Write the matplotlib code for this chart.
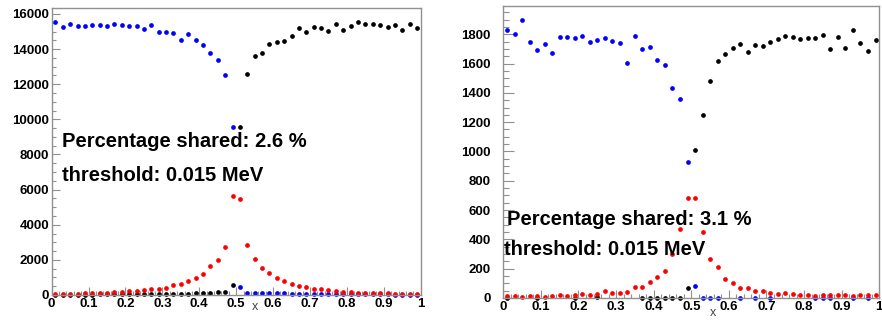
import numpy as np
import matplotlib
matplotlib.use('Agg')
import matplotlib.pyplot as plt
from matplotlib.ticker import MultipleLocator

nan = np.nan

# bin centres, 50 bins of width 0.02
x = np.arange(50) * 0.02 + 0.01

# left panel
left_blue = [15570, 15280, 15450, 15340, 15340, 15380, 15380, 15340, 15420, 15360,
             15340, 15300, 15170, 15400, 15000, 14960, 14920, 14510, 14850, 14510,
             14250, 13770, 13360, 12550, 9570,
             460, 140, 120, 110, 100, 95, 90, 80, 75, 70,
             65, 60, 55, 50, 45, 45, 40, 35, 35, 30,
             30, 25, 25, 20, 20]
left_black = [10, 15, 15, 20, 20, 25, 30, 30, 35, 35,
              40, 45, 45, 55, 60, 65, 70, 80, 85, 90,
              105, 115, 150, 165, 580,
              9580, 12600, 13590, 13770, 14300, 14410, 14470, 14770, 15230, 14980,
              15280, 15210, 15040, 15430, 15080, 15340, 15550, 15430, 15420, 15380,
              15250, 15380, 15110, 15430, 15210]
left_red = [40, 60, 60, 75, 115, 115, 115, 135, 150, 150,
            210, 210, 270, 325, 345, 400, 556, 650, 825, 980,
            1210, 1670, 1995, 2720, 5640, 5450, 2820, 2050, 1535, 1245,
            960, 805, 630, 540, 440, 365, 325, 290, 230, 190,
            170, 135, 115, 115, 95, 95, 75, 75, 75, 40]

# right panel (nan = empty bin, not drawn)
right_blue = [1827, 1802, 1898, 1745, 1691, 1734, 1670, 1782, 1782, 1773,
              1791, 1745, 1764, 1773, 1755, 1739, 1602, 1786, 1698, 1714,
              1627, 1591, 1430, 1361, 925,
              80, 0, 0, 0, nan, nan, 0, nan, 0, nan,
              0, nan, nan, nan, nan, nan, 0, 0, 0, nan,
              nan, 0, nan, 0, nan]
right_black = [2, nan, nan, nan, 2, nan, nan, nan, nan, 2,
               nan, nan, 5, nan, nan, nan, nan, nan, 2, 2,
               2, 2, 2, 2, 68,
               1011, 1248, 1482, 1616, 1666, 1707, 1736, 1680, 1727, 1723,
               1750, 1770, 1791, 1784, 1768, 1773, 1773, 1795, 1698, 1784,
               1705, 1830, 1743, 1686, 1759]
right_red = [16, 16, 9, 16, 14, 7, 14, 18, 16, 20,
             25, 20, 27, 45, 36, 36, 43, 73, 75, 109,
             145, 184, 300, 470, 684, 684, 450, 266, 213, 132,
             102, 70, 70, 48, 48, 34, 30, 36, 25, 23,
             18, 16, 20, 20, 18, 18, 14, 20, 20, 18]

panels = [
    dict(rect=[0.0586, 0.081, 0.4184, 0.894], ylim=16340, major=2000, minor=500,
         blue=left_blue, black=left_black, red=left_red, ypad=2, ytick=(6, 3),
         text=("Percentage shared: 2.6 %", 0.0703, 0.542, 0.0703, 0.436),
         xlabel=(0.289, 0.044)),
    dict(rect=[0.5706, 0.0717, 0.4263, 0.9106], ylim=1995, major=200, minor=50,
         blue=right_blue, black=right_black, red=right_red, ypad=9, ytick=(8, 4),
         text=("Percentage shared: 3.1 %", 0.5745, 0.300, 0.5714, 0.2056),
         xlabel=(0.808, 0.025)),
]

plt.rcParams['font.family'] = ['Liberation Sans', 'DejaVu Sans']

fig = plt.figure(figsize=(8.82, 3.21), dpi=100)

for p in panels:
    ax = fig.add_axes(p['rect'])
    ms = 3.4
    ax.plot(x, p['blue'], 'o', color='#0000ff', ms=ms, mew=0, clip_on=False)
    ax.plot(x, p['black'], 'o', color='black', ms=ms, mew=0, clip_on=False)
    ax.plot(x, p['red'], 'o', color='#ff0000', ms=ms, mew=0, clip_on=False)
    ax.set_xlim(0, 1)
    ax.set_ylim(0, p['ylim'])
    ax.xaxis.set_major_locator(MultipleLocator(0.1))
    ax.xaxis.set_minor_locator(MultipleLocator(0.02))
    ax.yaxis.set_major_locator(MultipleLocator(p['major']))
    ax.yaxis.set_minor_locator(MultipleLocator(p['minor']))
    ax.set_xticklabels([f"{v:g}" for v in ax.get_xticks()])
    for s in ax.spines.values():
        s.set_color('#909090')
        s.set_linewidth(1.0)
    ax.tick_params(which='both', direction='in', color='#909090', width=0.8,
                   top=False, right=False)
    ax.tick_params(axis='x', which='major', length=6, pad=2)
    ax.tick_params(axis='x', which='minor', length=3)
    ax.tick_params(axis='y', which='major', length=p['ytick'][0], pad=p['ypad'])
    ax.tick_params(axis='y', which='minor', length=p['ytick'][1])
    for lab in ax.get_xticklabels() + ax.get_yticklabels():
        lab.set_fontsize(9.5)
        lab.set_fontweight('bold')

    label, tx1, ty1, tx2, ty2 = p['text']
    fig.text(tx1, ty1, label, fontsize=14.5, fontweight='bold', va='baseline')
    fig.text(tx2, ty2, "threshold: 0.015 MeV", fontsize=14.5,
             fontweight='bold', va='baseline')
    fig.text(p['xlabel'][0], p['xlabel'][1], "x", fontsize=9, color='#444444',
             ha='center', va='center')

fig.savefig('out.png', dpi=100)
